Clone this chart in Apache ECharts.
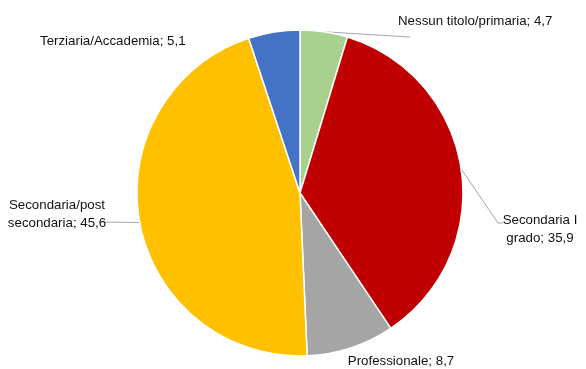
<!DOCTYPE html>
<html><head><meta charset="utf-8">
<script src="https://cdn.jsdelivr.net/npm/echarts@6/dist/echarts.min.js"></script>
<style>html,body{margin:0;padding:0;background:#fff}#c{width:586px;height:369px}</style>
</head><body><div id="c"></div>
<script>
var categories = ['Nessun titolo/primaria', 'Secondaria I grado', 'Professionale', 'Secondaria/post secondaria', 'Terziaria/Accademia'];
var values = [4.7, 35.9, 8.7, 45.6, 5.1];
var colors = ['#A9D18E', '#C00000', '#A5A5A5', '#FFC000', '#4472C4'];
var labelText = ['Nessun titolo/primaria; 4,7', 'Secondaria I\ngrado; 35,9', 'Professionale; 8,7', 'Secondaria/post\nsecondaria; 45,6', 'Terziaria/Accademia; 5,1'];
var labelPos = [[398, 21, 'left'], [540, 229, 'center'], [401, 361, 'center'], [57, 214, 'center'], [40, 41, 'left']];
// leader-line extra points, as offsets from the label anchor (null = no line)
var lineOffsets = [[[12, 16]], [[-42, -6], [-37, -6]], null, [[46, 8]], null];

var chart = echarts.init(document.getElementById('c'), null, {renderer: 'canvas'});
chart.setOption({
  animation: false,
  series: [{
    type: 'pie',
    center: [300, 193],
    radius: 163,
    startAngle: 90,
    clockwise: true,
    itemStyle: {borderColor: '#fff', borderWidth: 1.5},
    label: {
      show: true,
      position: 'outside',
      fontFamily: 'Liberation Sans',
      fontSize: 13.3,
      color: '#111',
      lineHeight: 18,
      formatter: function (p) { return labelText[p.dataIndex]; }
    },
    labelLine: {show: true, length: 10, length2: 10, lineStyle: {color: '#a6a6a6', width: 1}},
    labelLayout: function (p) {
      var i = p.dataIndex;
      var lp = labelPos[i];
      var res = {x: lp[0], y: lp[1], align: lp[2], verticalAlign: 'middle'};
      var offs = lineOffsets[i];
      if (offs && p.labelLinePoints) {
        var pts = [p.labelLinePoints[0]];
        offs.forEach(function (o) { pts.push([lp[0] + o[0], lp[1] + o[1]]); });
        if (pts.length === 2) pts.push(pts[1]);
        res.labelLinePoints = pts;
      }
      return res;
    },
    data: categories.map(function (c, i) {
      return {name: c, value: values[i], itemStyle: {color: colors[i]}, labelLine: {show: !!lineOffsets[i]}};
    })
  }]
});
</script></body></html>
